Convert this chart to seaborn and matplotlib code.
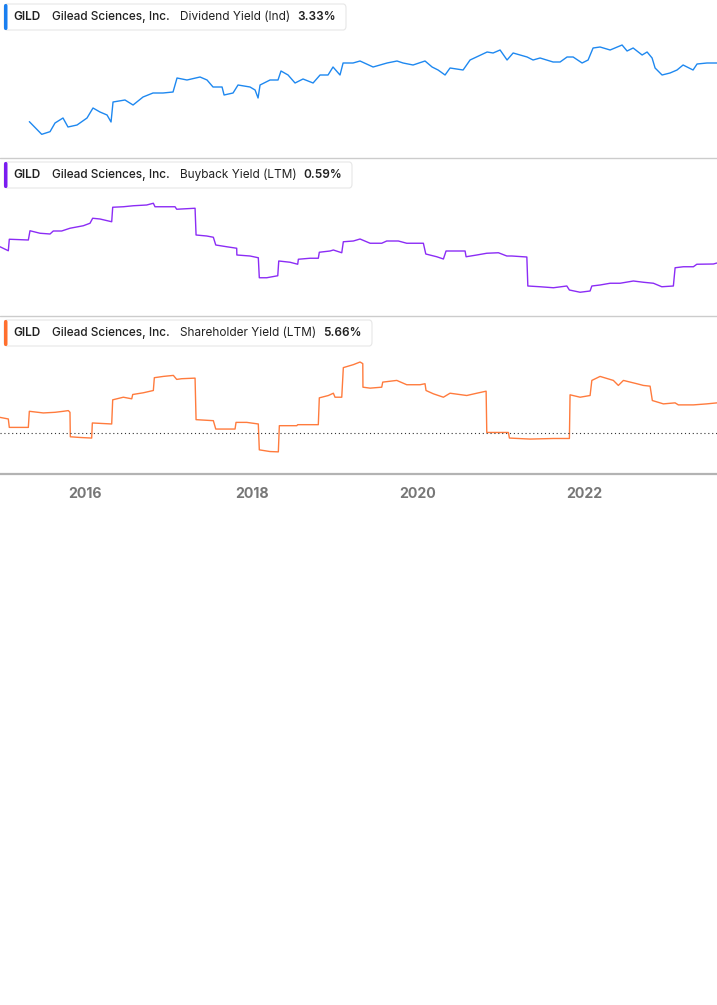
import numpy as np
import pandas as pd
import matplotlib
matplotlib.use("Agg")
import matplotlib.pyplot as plt
import seaborn as sns
from matplotlib.patches import FancyBboxPatch

# Series (time in decimal years, values in %)
div_t = [2015.326, 2015.475, 2015.575, 2015.635, 2015.731, 2015.791, 2015.900, 2016.020,
         2016.092, 2016.176, 2016.261, 2016.309, 2016.333, 2016.477, 2016.574, 2016.694,
         2016.814, 2016.934, 2017.055, 2017.103, 2017.223, 2017.380, 2017.464, 2017.536,
         2017.645, 2017.669, 2017.777, 2017.837, 2017.981, 2018.042, 2018.078, 2018.102,
         2018.222, 2018.318, 2018.354, 2018.439, 2018.523, 2018.619, 2018.740, 2018.824,
         2018.920, 2018.980, 2019.064, 2019.101, 2019.221, 2019.305, 2019.462, 2019.630,
         2019.750, 2019.823, 2019.943, 2020.087, 2020.172, 2020.244, 2020.328, 2020.388,
         2020.545, 2020.629, 2020.834, 2020.906, 2020.990, 2021.074, 2021.147, 2021.315,
         2021.387, 2021.471, 2021.628, 2021.712, 2021.796, 2021.869, 2021.977, 2022.049,
         2022.109, 2022.193, 2022.314, 2022.458, 2022.518, 2022.591, 2022.699, 2022.759,
         2022.819, 2022.855, 2022.939, 2023.035, 2023.119, 2023.192, 2023.312, 2023.360,
         2023.480, 2023.600]
div_v = [1.57, 1.19, 1.27, 1.53, 1.68, 1.41, 1.47, 1.68, 1.98, 1.86, 1.77, 1.56, 2.16, 2.22,
         2.07, 2.31, 2.43, 2.43, 2.46, 2.88, 2.82, 2.91, 2.82, 2.61, 2.61, 2.37, 2.43, 2.67,
         2.61, 2.52, 2.28, 2.67, 2.82, 2.82, 3.09, 2.97, 2.73, 2.85, 2.73, 2.97, 2.97, 3.21,
         2.97, 3.33, 3.33, 3.39, 3.21, 3.33, 3.39, 3.33, 3.27, 3.39, 3.21, 3.12, 2.97, 3.18,
         3.12, 3.42, 3.66, 3.63, 3.72, 3.42, 3.63, 3.51, 3.42, 3.48, 3.36, 3.36, 3.51, 3.51,
         3.33, 3.42, 3.78, 3.81, 3.72, 3.87, 3.69, 3.78, 3.57, 3.66, 3.48, 3.18, 2.97, 3.03,
         3.12, 3.27, 3.12, 3.30, 3.33, 3.33]

buy_t = [2014.973, 2015.073, 2015.085, 2015.314, 2015.334, 2015.454, 2015.575, 2015.614,
         2015.715, 2015.815, 2015.975, 2016.056, 2016.088, 2016.176, 2016.317, 2016.329,
         2016.457, 2016.577, 2016.738, 2016.818, 2016.838, 2017.079, 2017.099, 2017.320,
         2017.332, 2017.460, 2017.540, 2017.569, 2017.701, 2017.821, 2017.823, 2017.981,
         2018.081, 2018.093, 2018.182, 2018.315, 2018.327, 2018.463, 2018.555, 2018.563,
         2018.703, 2018.803, 2018.815, 2018.944, 2018.984, 2019.085, 2019.104, 2019.225,
         2019.305, 2019.426, 2019.566, 2019.626, 2019.766, 2019.867, 2020.067, 2020.096,
         2020.228, 2020.308, 2020.340, 2020.469, 2020.569, 2020.581, 2020.710, 2020.830,
         2020.970, 2021.071, 2021.131, 2021.312, 2021.324, 2021.471, 2021.632, 2021.793,
         2021.824, 2021.953, 2022.073, 2022.094, 2022.193, 2022.314, 2022.434, 2022.594,
         2022.714, 2022.835, 2022.936, 2023.075, 2023.096, 2023.196, 2023.316, 2023.357,
         2023.557, 2023.600]
buy_v = [1.89, 1.57, 2.49, 2.43, 3.17, 2.97, 2.91, 3.15, 3.15, 3.37, 3.57, 3.77, 4.17, 4.11,
         3.89, 5.05, 5.09, 5.17, 5.23, 5.37, 5.09, 5.09, 4.89, 4.97, 2.83, 2.75, 2.65, 2.03,
         1.89, 1.77, 1.23, 1.15, 1.01, -0.59, -0.59, -0.43, 0.75, 0.65, 0.49, 0.89, 0.97,
         0.97, 1.45, 1.55, 1.63, 1.41, 2.29, 2.35, 2.51, 2.17, 2.17, 2.35, 2.35, 2.17, 2.17,
         1.31, 1.09, 0.91, 1.55, 1.55, 1.55, 1.09, 1.23, 1.37, 1.41, 1.15, 1.15, 1.07, -1.25,
         -1.31, -1.39, -1.25, -1.57, -1.75, -1.65, -1.25, -1.17, -1.03, -1.03, -0.85, -0.95,
         -1.03, -1.31, -1.25, 0.21, 0.29, 0.29, 0.49, 0.51, 0.59]

shy_t = [2014.973, 2015.073, 2015.085, 2015.314, 2015.326, 2015.494, 2015.635, 2015.735,
         2015.795, 2015.815, 2015.819, 2015.936, 2016.076, 2016.084, 2016.317, 2016.329,
         2016.457, 2016.558, 2016.570, 2016.697, 2016.818, 2016.830, 2016.938, 2017.059,
         2017.099, 2017.159, 2017.320, 2017.332, 2017.540, 2017.569, 2017.801, 2017.813,
         2017.942, 2018.081, 2018.093, 2018.222, 2018.322, 2018.334, 2018.544, 2018.555,
         2018.803, 2018.815, 2018.924, 2018.984, 2019.004, 2019.085, 2019.104, 2019.225,
         2019.305, 2019.338, 2019.340, 2019.426, 2019.566, 2019.578, 2019.747, 2019.867,
         2020.027, 2020.087, 2020.099, 2020.187, 2020.308, 2020.388, 2020.589, 2020.710,
         2020.822, 2020.830, 2021.090, 2021.102, 2021.351, 2021.632, 2021.824, 2021.832,
         2021.953, 2022.073, 2022.094, 2022.193, 2022.353, 2022.413, 2022.474, 2022.635,
         2022.714, 2022.795, 2022.822, 2022.955, 2023.096, 2023.135, 2023.316, 2023.477,
         2023.600]
shy_v = [2.94, 2.64, 1.06, 1.06, 4.08, 3.77, 3.89, 4.08, 4.21, 3.89, -0.70, -0.83, -0.94,
         1.89, 1.70, 6.23, 6.72, 6.42, 7.23, 7.55, 7.98, 10.38, 10.62, 10.81, 10.06, 10.19,
         10.30, 2.51, 2.32, 0.75, 0.75, 2.00, 2.00, 1.70, -3.15, -3.47, -3.53, 1.38, 1.38,
         1.57, 1.57, 6.60, 7.04, 7.47, 6.72, 6.72, 12.27, 12.83, 13.32, 13.02, 8.60, 8.42,
         8.60, 9.55, 9.87, 9.06, 9.06, 9.25, 7.98, 7.36, 6.72, 7.47, 7.04, 7.47, 7.85, 0.11,
         0.11, -0.94, -1.13, -1.02, -1.02, 7.17, 6.72, 7.04, 9.87, 10.62, 9.87, 8.93, 9.87,
         9.25, 8.93, 8.79, 6.10, 5.47, 5.66, 5.28, 5.28, 5.47, 5.66]

ticker = "GILD"
company = "Gilead Sciences, Inc."
metrics = ["Dividend Yield (Ind)", "Buyback Yield (LTM)", "Shareholder Yield (LTM)"]
last_vals = ["3.33%", "0.59%", "5.66%"]
year_ticks = [2016, 2018, 2020, 2022]

colors = ["#1e88f0", "#8b2cf5", "#ff7b3d"]
bar_colors = ["#1a7ff0", "#7a1cf0", "#ff6f2e"]

W, H = 717, 1005
sns.set_style("white")
plt.rcParams['font.family'] = ['Inter', 'DejaVu Sans']

fig = plt.figure(figsize=(W / 100, H / 100), dpi=100)

def fx(px):
    return px / W

def fy(py):
    return 1 - py / H

panels = [
    (div_t, div_v, 0, (0.48, 5.22), 346),
    (buy_t, buy_v, 158, (-3.65, 8.99), 352),
    (shy_t, shy_v, 316, (-7.68, 21.95), 372),
]
val_x = [297, 303, 323]

axes = []
for i, (t, v, top, ylim, box_r) in enumerate(panels):
    ax = fig.add_axes([0, fy(top + 158), 1, 158 / H])
    df = pd.DataFrame({"t": t, "v": v})
    sns.lineplot(data=df, x="t", y="v", ax=ax, color=colors[i], lw=1.0,
                 estimator=None, sort=False)
    ax.set_xlim(2014.973, 2023.60)
    ax.set_ylim(*ylim)
    ax.set_xlabel("")
    ax.set_ylabel("")
    ax.set_yticks([])
    for s in ax.spines.values():
        s.set_visible(False)
    ax.patch.set_alpha(0)
    axes.append(ax)

    # header box
    yb = top + 4
    box = FancyBboxPatch((fx(4), fy(yb + 26)), fx(box_r - 4), 26 / H,
                         boxstyle="round,pad=0,rounding_size=0.004",
                         transform=fig.transFigure, facecolor="white",
                         edgecolor="#e6e6e6", lw=0.8, zorder=5)
    fig.patches.append(box)
    bar = FancyBboxPatch((fx(4), fy(yb + 26)), fx(3.5), 26 / H,
                         boxstyle="round,pad=0,rounding_size=0.002",
                         transform=fig.transFigure, facecolor=bar_colors[i],
                         edgecolor="none", zorder=6)
    fig.patches.append(bar)
    ty = fy(yb + 13)
    fig.text(fx(13), ty, ticker, fontsize=8.5, fontweight="semibold",
             color="#222222", va="center", zorder=7)
    fig.text(fx(52), ty, company, fontsize=8.5, fontweight="medium",
             color="#222222", va="center", zorder=7)
    fig.text(fx(180), ty, metrics[i], fontsize=8.5, color="#222222",
             va="center", zorder=7)
    fig.text(fx(val_x[i]), ty, last_vals[i], fontsize=8.5, fontweight="semibold",
             color="#222222", va="center", zorder=7)

# separators between panels
for py in [158, 316]:
    fig.add_artist(plt.Line2D([0, 1], [fy(py), fy(py)], color="#cccccc", lw=1.0,
                              transform=fig.transFigure))

ax3 = axes[2]
ax3.axhline(0, color="#333333", lw=0.8, ls=(0, (1, 2.5)))
for ax in axes[:2]:
    ax.set_xticks([])
ax3.spines["bottom"].set_visible(True)
ax3.spines["bottom"].set_color("#b3b3b3")
ax3.spines["bottom"].set_linewidth(1.6)
ax3.set_xticks(year_ticks)
ax3.set_xticklabels([str(y) for y in year_ticks])
ax3.tick_params(axis="x", length=4, width=0.8, color="#999999", pad=5,
                labelsize=10.2, labelcolor="#777777")
for lab in ax3.get_xticklabels():
    lab.set_fontweight("bold")

fig.savefig("out.png", dpi=100, facecolor="white")
